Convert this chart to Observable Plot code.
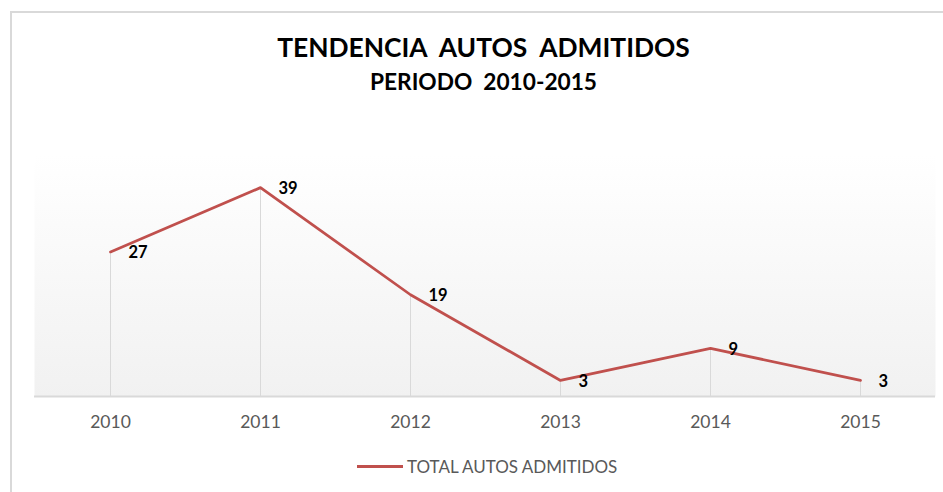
<!DOCTYPE html>
<html>
<head>
<meta charset="utf-8">
<script src="https://cdn.jsdelivr.net/npm/d3@7"></script>
<script src="https://cdn.jsdelivr.net/npm/@observablehq/plot@0.6"></script>
<style>
  body { margin: 0; background: #fff; }
  #wrap { position: relative; width: 943px; height: 492px; overflow: hidden; font-family: Lato, "Open Sans", sans-serif; }
  #frame { position: absolute; left: 10px; top: 11px; width: 932px; height: 490px; border-top: 2px solid #d9d9d9; border-left: 2px solid #d9d9d9; }
  #title { position: absolute; left: 24px; width: 919px; top: 31px; text-align: center; font-weight: bold; font-size: 26.4px; color: #000; white-space: pre; }
  #subtitle { position: absolute; left: 24px; width: 919px; top: 68px; text-align: center; font-weight: bold; font-size: 22.7px; color: #000; white-space: pre; }
  #chart { position: absolute; left: 0; top: 140px; }
  #legend { position: absolute; top: 456px; left: 357px; display: flex; align-items: center; font-size: 17px; color: #595959; }
  #legend .sw { width: 46px; height: 3px; background: #C0504D; margin-right: 4px; }
</style>
</head>
<body>
<div id="wrap">
  <div id="frame"></div>
  <div id="title">TENDENCIA  AUTOS  ADMITIDOS</div>
  <div id="subtitle">PERIODO  2010-2015</div>
  <div id="chart"></div>
  <div id="legend"><div class="sw"></div><span id="legtext"></span></div>
</div>
<script>
const years = ["2010", "2011", "2012", "2013", "2014", "2015"];
const values = [27, 39, 19, 3, 9, 3];
const seriesName = "TOTAL AUTOS ADMITIDOS";

const data = years.map((y, i) => ({year: y, value: values[i]}));
document.getElementById("legtext").textContent = seriesName;

const defs = () => {
  const d = d3.create("svg:defs");
  const g = d.append("linearGradient").attr("id", "bg").attr("x1", 0).attr("y1", 0).attr("x2", 0).attr("y2", 1);
  g.append("stop").attr("offset", "0%").attr("stop-color", "#ffffff");
  g.append("stop").attr("offset", "100%").attr("stop-color", "#f1f1f1");
  return d.node();
};

const chart = Plot.plot({
  width: 943,
  height: 300,
  marginLeft: 34,
  marginRight: 8,
  marginTop: 15,
  marginBottom: 44,
  style: {fontFamily: "Lato, 'Open Sans', sans-serif", background: "transparent"},
  x: {type: "point", domain: years, padding: 0.5, label: null, tickSize: 0, tickPadding: 19},
  y: {domain: [0, 45], axis: null},
  marks: [
    defs,
    Plot.frame({fill: "url(#bg)", stroke: null}),
    Plot.ruleX(data, {x: "year", y1: 0, y2: "value", stroke: "#d9d9d9", strokeWidth: 1}),
    Plot.ruleY([0], {stroke: "#d9d9d9", strokeWidth: 2}),
    Plot.line(data, {x: "year", y: "value", stroke: "#C0504D", strokeWidth: 2.75}),
    Plot.text(data, {x: "year", y: "value", text: d => String(d.value), textAnchor: "start", dx: 18, dy: 1, fontWeight: "bold", fontSize: 16.5, fill: "#000"}),
    Plot.axisX({domain: years, tickSize: 0, tickPadding: 19, fontSize: 17.5, fill: "#595959", label: null})
  ]
});
document.getElementById("chart").appendChild(chart);
</script>
</body>
</html>
